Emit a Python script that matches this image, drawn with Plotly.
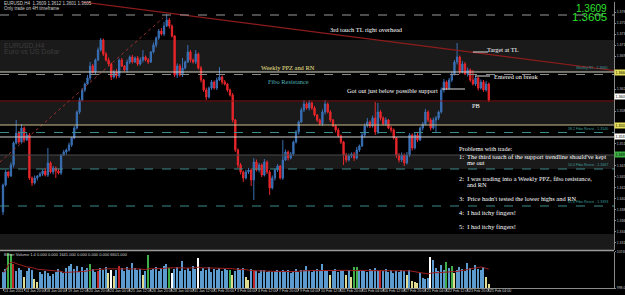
import plotly.graph_objects as go
import pandas as pd

# ---------------- data ----------------
first_open = 1.3381
closes = [
    1.3435, 1.3461, 1.3453, 1.3475, 1.3519, 1.3539, 1.3521, 1.3549, 1.3525, 1.3535,
    1.3449, 1.3439, 1.3449, 1.3453, 1.3457, 1.3463, 1.3455, 1.3479, 1.3461, 1.3469,
    1.3463, 1.3459, 1.3495, 1.3501, 1.3505, 1.3515, 1.3529, 1.3549, 1.3581, 1.3605,
    1.3625, 1.3637, 1.3649, 1.3673, 1.3661, 1.3685, 1.3705, 1.3725, 1.3697, 1.3685,
    1.3677, 1.3651, 1.3661, 1.3653, 1.3685, 1.3673, 1.3665, 1.3681, 1.3691, 1.3681,
    1.3689, 1.3677, 1.3685, 1.3691, 1.3685, 1.3681, 1.3701, 1.3715, 1.3729, 1.3743,
    1.3737, 1.3753, 1.3765, 1.3753, 1.3733, 1.3655, 1.3673, 1.3655, 1.3669, 1.3681,
    1.3701, 1.3685, 1.3681, 1.3697, 1.3669, 1.3645, 1.3625, 1.3611, 1.3629, 1.3641,
    1.3629, 1.3645, 1.3651, 1.3641, 1.3637, 1.3625, 1.3615, 1.3565, 1.3505, 1.3475,
    1.3461, 1.3449, 1.3461, 1.3465, 1.3445, 1.3481, 1.3465, 1.3475, 1.3455, 1.3481,
    1.3461, 1.3429, 1.3449, 1.3465, 1.3473, 1.3449, 1.3485, 1.3501, 1.3489, 1.3497,
    1.3521, 1.3541, 1.3561, 1.3585, 1.3597, 1.3589, 1.3599, 1.3589, 1.3575, 1.3565,
    1.3557, 1.3581, 1.3597, 1.3581, 1.3565, 1.3553, 1.3545, 1.3533, 1.3521, 1.3495,
    1.3485, 1.3493, 1.3497, 1.3489, 1.3505, 1.3513, 1.3535, 1.3553, 1.3561, 1.3553,
    1.3569, 1.3541, 1.3581, 1.3569, 1.3557, 1.3565, 1.3549, 1.3545, 1.3529, 1.3495,
    1.3485, 1.3495, 1.3479, 1.3495, 1.3535, 1.3509, 1.3535, 1.3525, 1.3549, 1.3557,
    1.3581, 1.3565, 1.3549, 1.3565, 1.3569, 1.3581, 1.3625, 1.3641, 1.3629, 1.3645,
    1.3657, 1.3681, 1.3691, 1.3661, 1.3677, 1.3657, 1.3665, 1.3645, 1.3637, 1.3649,
    1.3629, 1.3641, 1.3625, 1.3637, 1.3605,
]
upper_wick_pips = [
    3, 4, 2, 5, 3, 26, 4, 8, 3, 5,
    4, 3, 5, 2, 4, 3, 6, 30, 3, 4,
    3, 5, 2, 4, 3, 5, 2, 4, 3, 5,
    4, 3, 6, 8, 4, 3, 5, 4, 3, 4,
    5, 3, 4, 6, 3, 4, 2, 5, 3, 4,
    3, 4, 5, 14, 3, 4, 2, 5, 3, 4,
    6, 8, 12, 4, 3, 2, 5, 4, 20, 3,
    14, 4, 3, 8, 3, 4, 2, 5, 3, 4,
    3, 5, 20, 3, 4, 2, 3, 4, 2, 3,
    4, 3, 5, 4, 3, 8, 5, 4, 3, 6,
    3, 4, 5, 3, 4, 2, 40, 5, 3, 4,
    3, 4, 3, 5, 8, 4, 6, 3, 4, 2,
    3, 5, 8, 3, 4, 2, 3, 4, 3, 2,
    4, 5, 3, 4, 6, 3, 4, 5, 8, 3,
    5, 32, 18, 4, 3, 5, 2, 4, 3, 2,
    4, 5, 3, 6, 4, 3, 5, 4, 3, 4,
    6, 3, 4, 5, 4, 3, 5, 6, 3, 4,
    5, 4, 28, 3, 6, 4, 5, 3, 20, 4,
    3, 5, 4, 6, 3,
]
lower_wick_pips = [
    6, 3, 4, 2, 5, 3, 4, 3, 5, 2,
    4, 6, 3, 5, 2, 4, 3, 4, 3, 5,
    14, 3, 4, 2, 5, 3, 4, 2, 3, 4,
    3, 4, 2, 5, 3, 4, 2, 3, 4, 3,
    4, 6, 3, 5, 4, 2, 3, 5, 4, 3,
    2, 4, 3, 5, 3, 4, 2, 3, 5, 4,
    3, 4, 2, 5, 3, 4, 6, 3, 4, 3,
    2, 5, 3, 4, 3, 5, 4, 6, 3, 4,
    3, 4, 2, 5, 3, 4, 3, 5, 4, 6,
    5, 8, 3, 4, 12, 40, 3, 5, 4, 3,
    4, 14, 3, 5, 4, 3, 4, 2, 5, 3,
    4, 3, 5, 2, 4, 3, 5, 4, 3, 4,
    3, 4, 5, 3, 4, 2, 5, 3, 4, 20,
    5, 3, 4, 6, 3, 4, 2, 5, 3, 4,
    3, 6, 4, 5, 3, 4, 2, 5, 3, 6,
    5, 4, 6, 3, 4, 5, 3, 4, 2, 5,
    3, 4, 5, 3, 26, 4, 3, 5, 4, 3,
    4, 3, 5, 4, 3, 2, 5, 4, 3, 4,
    5, 3, 4, 3, 4,
]
volumes = [
    5200, 6100, 10476, 10200, 7497, 5600, 6300, 5900, 4000, 5500,
    6400, 5800, 3400, 2600, 5200, 4900, 5500, 5100, 4300, 4700,
    5300, 6100, 5600, 5000, 6500, 6900, 7600, 6200, 7000, 5400,
    6600, 5800, 6300, 7600, 6100, 5300, 5600, 6400, 5900, 6800,
    5000, 5900, 4200, 6000, 7000, 6300, 5700, 6800, 6000, 7800,
    6500, 5900, 6200, 4500, 5600, 9900, 5800, 6100, 6700, 5500,
    6300, 6900, 7400, 6400, 5000, 6200, 6800, 5700, 8300, 6000,
    6400, 5500, 6900, 6100, 9100, 5700, 6300, 6000, 6600, 5300,
    6200, 5900, 6500, 5600, 6100, 5800, 6000, 4500, 5500, 6300,
    5900, 6400, 3900, 3200, 6200, 5900, 5600, 5000, 5800, 6000,
    5400, 5700, 5200, 5600, 5900, 5300, 6000, 5500, 5800, 5100,
    5600, 6200, 5400, 5800, 6000, 7000, 5700, 5300, 5900, 6200,
    5500, 7500, 6000, 5600, 4600, 5700, 6100, 5400, 5900, 5600,
    4500, 5800, 4000, 6700, 6700, 5600, 6000, 5700, 5300, 6100,
    5800, 6300, 5500, 5900, 5600, 6200, 5400, 5900, 5000, 5700,
    5300, 6000, 5500, 4500, 5800, 3000, 2600, 2300, 5100, 3600,
    3400, 3800, 9400, 8600, 6400, 5700, 7100, 6000, 8100, 6500,
    6900, 5000, 5800, 6600, 6200, 5700, 7800, 6400, 6000, 7300,
    6200, 5800, 6700, 4000, 2000,
]
volume_kind = (
    "bbggrbbbyb" "bbyybbbbbb" "bbbbbbbbbb" "bbbgbbrbbb" "ywybrbbbbb"
    "bbbybgbbbb" "bbbgwbbbbb" "bbbbwbbbbb" "bbbbbbgybb" "bbyybrbbbb"
    "bbbbbbbbbb" "bbbbbbbbbb" "bbbbybbbbb" "ybyggbbbbb" "bbbrbbbbbb"
    "bbbybyyybb" "bbwbbbbbgb" "gybbbbbbbb" "bbbyy"
)
date_labels = [
    "13 Jan 2011", "14 Jan 20:00", "18 Jan 04:00", "19 Jan 12:00", "20 Jan 20:00",
    "24 Jan 04:00", "25 Jan 12:00", "26 Jan 20:00", "28 Jan 04:00", "31 Jan 12:00",
    "1 Feb 20:00", "3 Feb 04:00", "4 Feb 12:00", "7 Feb 20:00", "9 Feb 04:00",
    "10 Feb 12:00", "11 Feb 20:00", "15 Feb 04:00", "16 Feb 12:00", "17 Feb 20:00",
    "21 Feb 04:00", "22 Feb 12:00", "23 Feb 20:00", "25 Feb 04:00",
]
bars_per_label = 8

# horizontal levels / zones (prices)
ask_level = 1.3775
ppz_level = 1.3661
ppz_dash_level = 1.3656
pb_level = 1.3603
box_top_level = 1.3555
box_bottom_level = 1.3531
grey_level = 1.3495
fibo_levels = [1.3540, 1.3467, 1.3393]
fibo_level_names = ["38.2 Fibo Resist - 1.3540", "50.0 Fibo Resist - 1.3467", "61.8 Fibo Resist - 1.3393"]
zones = [(1.3661, 1.3725), (1.3555, 1.3601), (1.3467, 1.3495), (1.3305, 1.3337)]
axis_boxes = [(1.3661, "1.3660", "#e8e05a"), (1.3612, "1.3605", "#ffffff"),
              (1.3555, "1.3555", "#e8e05a"), (1.3531, "1.3531", "#ffffff"),
              (1.3495, "1.3495", "#3cb043")]
price_ticks = [1.3781, 1.3759, 1.3737, 1.3715, 1.3693, 1.3627, 1.3583,
               1.3517, 1.3473, 1.3451, 1.3429, 1.3407, 1.3385, 1.3363, 1.3341, 1.3319]

# trend lines (bar index, price)
resist_tl_bars = [14.0, 231.4]
resist_tl_prices = [1.3812, 1.3664]
support_tl_bars = [-1.14, 60.6]
support_tl_prices = [1.3481, 1.3769]

# pointer lines
pointer_lines = [
    ([178.0, 183.7], 1.3701),
    ([178.8, 184.5], 1.3653),
    ([166.3, 175.0], 1.3627),
]

bid_price = "1.3605"
ask_price = "1.3609"

# ---------------- build ----------------
n = len(closes)
assert len(upper_wick_pips) == n and len(lower_wick_pips) == n
assert len(volumes) == n and len(volume_kind) == n
bars = list(range(n))
opens = [first_open] + closes[:-1]
highs = [max(o, c) + u * 0.0001 for o, c, u in zip(opens, closes, upper_wick_pips)]
lows = [min(o, c) - d * 0.0001 for o, c, d in zip(opens, closes, lower_wick_pips)]
vol_ma = pd.Series(volumes).rolling(20, min_periods=1).mean().tolist()

BULL = "#3a70b5"
BEAR = "#e8262b"
VCOL = {"b": "#5b9bd0", "g": "#3fae49", "r": "#c0262a", "y": "#e0dc90", "w": "#ffffff"}

fig = go.Figure()
fig.add_trace(go.Candlestick(
    x=bars, open=opens, high=highs, low=lows, close=closes,
    increasing=dict(line=dict(color=BULL, width=1), fillcolor=BULL),
    decreasing=dict(line=dict(color=BEAR, width=1), fillcolor=BEAR),
    whiskerwidth=0, showlegend=False, hoverinfo="skip", xaxis="x", yaxis="y",
))
fig.add_trace(go.Scatter(x=resist_tl_bars, y=resist_tl_prices, mode="lines",
                         line=dict(color="#8e1c1c", width=1.2), showlegend=False,
                         hoverinfo="skip", xaxis="x", yaxis="y"))
fig.add_trace(go.Scatter(x=support_tl_bars, y=support_tl_prices, mode="lines",
                         line=dict(color="#9a3030", width=1, dash="dot"), showlegend=False,
                         hoverinfo="skip", xaxis="x", yaxis="y"))
for xs, p in pointer_lines:
    fig.add_trace(go.Scatter(x=xs, y=[p, p], mode="lines", line=dict(color="#dddddd", width=1),
                             showlegend=False, hoverinfo="skip", xaxis="x", yaxis="y"))

fig.add_trace(go.Bar(x=bars, y=volumes, marker=dict(color=[VCOL[k] for k in volume_kind], line=dict(width=0)),
                     width=0.55, showlegend=False, hoverinfo="skip", xaxis="x2", yaxis="y2"))
fig.add_trace(go.Scatter(x=bars, y=vol_ma, mode="lines", line=dict(color="#a02020", width=1),
                         showlegend=False, hoverinfo="skip", xaxis="x2", yaxis="y2"))

shapes = []
for lo, hi in zones:
    shapes.append(dict(type="rect", xref="paper", yref="y", x0=0, x1=1, y0=lo, y1=hi,
                       fillcolor="#1a1a1a", line=dict(width=0), layer="below"))

def hline(p, color, dash="solid", width=1):
    shapes.append(dict(type="line", xref="paper", yref="y", x0=0, x1=1, y0=p, y1=p,
                       line=dict(color=color, width=width, dash=dash)))

hline(ask_level, "#9a9a9a", "dash")
hline(ppz_level, "#d8d8c8")
hline(ppz_dash_level, "#8a8a8a", "dash")
hline(pb_level, "#8e1c1c")
hline(box_top_level, "#c9bf8c")
hline(box_bottom_level, "#cfcfcf")
hline(grey_level, "#4a4a4a")
for p in fibo_levels:
    hline(p, "#3d8b8b", "dash")
# panel separator
shapes.append(dict(type="line", xref="paper", yref="paper", x0=0, x1=1, y0=0.1311, y1=0.1311,
                   line=dict(color="#9a9a9a", width=1.5)))

SERIF = "Liberation Serif"
ann = []

def note(x, y, text, color="#ffffff", size=6.4, xanchor="left"):
    ann.append(dict(x=x, y=y, xref="x", yref="y", text=text, showarrow=False,
                    xanchor=xanchor, yanchor="middle", font=dict(family=SERIF, size=size, color=color)))

note(137.5, 1.3747, "3rd touch TL right overhead", xanchor="center")
note(182.6, 1.3707, "Target at TL")
note(108, 1.3671, "Weekly PPZ and RN", color="#efe28a", xanchor="center")
note(108, 1.3643, "Fibo Resistance", color="#4fb3b8", xanchor="center")
note(165.5, 1.3625, "Got out just below possible support", xanchor="right")
note(185.2, 1.3653, "Entered on break")
note(176.9, 1.3595, "PB")
block = [
    (1.3507, 172, "Problems with trade:"),
    (1.3491, 172, "1:  The third touch of the support trendline should've kept"),
    (1.3479, 175, "me out"),
    (1.3447, 172, "2:  I was trading into a Weekly PPZ, fibo resistance,"),
    (1.3435, 175, "and RN"),
    (1.3407, 172, "3:  Price hadn't tested the lower highs and RN"),
    (1.3379, 172, "4:  I had itchy fingers!"),
    (1.3351, 172, "5:  I had itchy fingers!"),
]
for p, b, t in block:
    note(b, p, t)

def pann(x, y, text, size, color, xanchor="left", family="Liberation Sans"):
    ann.append(dict(x=x, y=y, xref="paper", yref="paper", text=text, showarrow=False,
                    xanchor=xanchor, yanchor="middle", font=dict(family=family, size=size, color=color)))

# top-right big prices
pann(0.992, 0.979, ask_price, 10, "#2ee02e", xanchor="right")
pann(0.992, 0.947, bid_price, 11.5, "#2ee02e", xanchor="right")
# top-left info
pann(0.004, 0.995, "EURUSD,H4  1.3609 1.3612 1.3601 1.3605", 4.5, "#d0d0d0")
pann(0.004, 0.976, "Only trade on 4H timeframe", 4.5, "#d0d0d0")
pann(0.004, 0.848, "EURUSD,H4", 7, "#3c3c3c")
pann(0.004, 0.826, "Euro vs US Dollar", 7, "#3c3c3c")
# volume panel title
pann(0.004, 0.118, "Better Volume 1.4 0.000 0.000 1641.000 0.000 0.000 0.000 6601.000", 4, "#d0d0d0")

# fibo labels near right
for p, t in zip([ppz_level] + fibo_levels, ["Weekly R1 - 1.3660"] + fibo_level_names):
    ann.append(dict(x=0.993, y=p, xref="paper", yref="y", text=t, showarrow=False, xanchor="right",
                    yanchor="bottom", font=dict(family="Liberation Sans", size=3.6, color="#3d9b9b")))

# right axis coloured price boxes
for p, t, bg in axis_boxes:
    ann.append(dict(x=1.0, y=p, xref="paper", yref="y", text=t, showarrow=False, xanchor="left",
                    yanchor="middle", bgcolor=bg, borderpad=0.5,
                    font=dict(family="Liberation Sans", size=3.6, color="#000000")))

# date labels
for k, lab in enumerate(date_labels):
    ann.append(dict(x=k * bars_per_label - 0.3, y=-0.012, xref="x", yref="paper", text=lab, showarrow=False,
                    xanchor="left", yanchor="middle",
                    font=dict(family="Liberation Sans", size=3.6, color="#d0d0d0")))

x0 = -3 / 2.64
x1 = x0 + 614 / 2.64

fig.update_layout(
    width=625, height=295, autosize=False,
    margin=dict(l=0, r=11, t=2, b=7, pad=0),
    paper_bgcolor="#000000", plot_bgcolor="#000000",
    showlegend=False, bargap=0,
    shapes=shapes, annotations=ann,
    xaxis=dict(domain=[0, 1], range=[x0, x1], anchor="y", showticklabels=False, showgrid=False,
               zeroline=False, rangeslider=dict(visible=False), showline=False, fixedrange=True),
    xaxis2=dict(domain=[0, 1], range=[x0, x1], anchor="y2", showticklabels=False, showgrid=False,
                zeroline=False, showline=True, linecolor="#8a8a8a", ticks="outside", ticklen=2,
                tickcolor="#8a8a8a", tickvals=list(range(0, n, bars_per_label))),
    yaxis=dict(domain=[0.1329, 1], range=[1.3305, 1.3801], side="right", showgrid=False, zeroline=False,
               showline=True, linecolor="#8a8a8a", ticks="outside", ticklen=1, tickcolor="#8a8a8a",
               tickvals=price_ticks, tickformat=".4f",
               tickfont=dict(family="Liberation Sans", size=3.5, color="#c0c0c0"), automargin=False),
    yaxis2=dict(domain=[0, 0.1259], range=[998, 10746], side="right", showgrid=False, zeroline=False,
                showline=True, linecolor="#8a8a8a", ticks="outside", ticklen=1, tickcolor="#8a8a8a",
                tickvals=[998, 10746], ticktext=["998.0", "10746"],
                tickfont=dict(family="Liberation Sans", size=3.5, color="#c0c0c0"), automargin=False),
)

fig.write_html("out.html")
